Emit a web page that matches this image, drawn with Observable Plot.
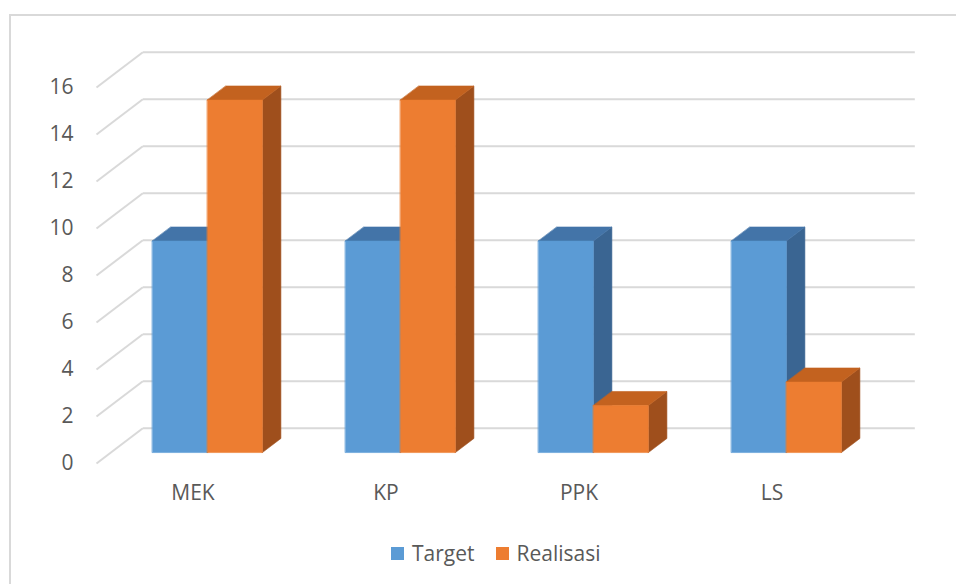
<!DOCTYPE html>
<html>
<head>
<meta charset="utf-8">
<script src="https://cdn.jsdelivr.net/npm/d3@7"></script>
<script src="https://cdn.jsdelivr.net/npm/@observablehq/plot@0.6"></script>
<style>
  html, body { margin: 0; padding: 0; background: #fff; }
  body { width: 956px; height: 584px; position: relative; overflow: hidden; font-family: "Open Sans", sans-serif; }
  #chart { position: absolute; left: 0; top: 0; }
  #frame { position: absolute; left: 9px; top: 14px; width: 960px; height: 600px;
           border-top: 2px solid #d9d9d9; border-left: 2px solid #d9d9d9; pointer-events: none; }
  #legend { position: absolute; left: 391px; top: 538px; display: flex; align-items: center;
            font-size: 21px; color: #595959; line-height: 30px; }
  #legend .item { display: flex; align-items: center; margin-right: 21px; }
  #legend .sw { width: 13px; height: 13px; margin-right: 8px; }
</style>
</head>
<body>
<div id="chart"></div>
<div id="frame"></div>
<div id="legend"></div>
<script>
// Categories and series values
const categories = ["MEK", "KP", "PPK", "LS"];
const target = [9, 9, 9, 9];
const realisasi = [15, 15, 2, 3];
const seriesNames = ["Target", "Realisasi"];
const yTicks = [0, 2, 4, 6, 8, 10, 12, 14, 16];

// Face shading per series: front, top, side
const palette = {
  Target:    { front: "#5b9bd5", top: "#4374a8", side: "#3a6592" },
  Realisasi: { front: "#ed7d31", top: "#c3621f", side: "#9f4f1c" }
};

// Oblique projection of the box: depth shifts points right and up (in data units)
const DX = 0.24, DY = 1.5;
const Z0 = 0.31, Z1 = 0.71;   // front and back planes of the bars
const BAR = 0.285;            // width of one bar within a category

const proj = (x, y, z) => ({ x: x + z * DX, y: y + z * DY });

// Polygon vertices for each bar face
const seriesValues = { Target: target, Realisasi: realisasi };
const polys = [];
seriesNames.forEach((s, si) => {
  categories.forEach((c, i) => {
    const v = seriesValues[s][i];
    const x0 = i + 0.5 - BAR + si * BAR;
    const x1 = x0 + BAR;
    const shapes = {
      side:  [[x1, 0, Z0], [x1, 0, Z1], [x1, v, Z1], [x1, v, Z0]],
      top:   [[x0, v, Z0], [x1, v, Z0], [x1, v, Z1], [x0, v, Z1]],
      front: [[x0, 0, Z0], [x1, 0, Z0], [x1, v, Z0], [x0, v, Z0]]
    };
    for (const face of ["side", "top", "front"]) {
      const id = `${s}-${c}-${face}`;
      shapes[face].forEach(([x, y, z]) => polys.push({ series: s, face, id, ...proj(x, y, z) }));
    }
  });
});

const faceMarks = seriesNames.flatMap((s) =>
  ["side", "top", "front"].map((face) =>
    Plot.line(polys.filter((d) => d.series === s && d.face === face), {
      x: "x", y: "y", z: "id", curve: "linear-closed",
      fill: palette[s][face], stroke: palette[s][face], strokeWidth: 0.6
    })
  )
);

const grid = "#d9d9d9";
const chart = Plot.plot({
  width: 956,
  height: 520,
  marginLeft: 96,
  marginRight: 88,
  marginTop: 87,
  marginBottom: 57,
  style: { fontFamily: "'Open Sans', sans-serif", fontSize: "21px", color: "#595959", background: "none" },
  x: { domain: [0, 4], axis: null },
  y: { domain: [0, 16], axis: null },
  marks: [
    // side wall diagonals and back wall gridlines
    Plot.link(yTicks, { x1: () => 0, y1: (d) => d, x2: () => DX, y2: (d) => d + DY, stroke: grid, strokeWidth: 2 }),
    Plot.link(yTicks, { x1: () => DX, y1: (d) => d + DY, x2: () => 4 + DX, y2: (d) => d + DY, stroke: grid, strokeWidth: 2 }),
    ...faceMarks,
    Plot.axisY({ ticks: yTicks, label: null, tickSize: 0, tickPadding: 23, fontSize: 21, fill: "#595959" }),
    Plot.text(categories, { x: (d, i) => i + 0.5, y: () => 0, dy: 30, text: (d) => d, fontSize: 21, fill: "#595959" })
  ]
});
document.getElementById("chart").appendChild(chart);

// Legend
const legend = document.getElementById("legend");
seriesNames.forEach((s) => {
  const item = document.createElement("div");
  item.className = "item";
  const sw = document.createElement("span");
  sw.className = "sw";
  sw.style.background = palette[s].front;
  const label = document.createElement("span");
  label.textContent = s;
  item.append(sw, label);
  legend.appendChild(item);
});
</script>
</body>
</html>
